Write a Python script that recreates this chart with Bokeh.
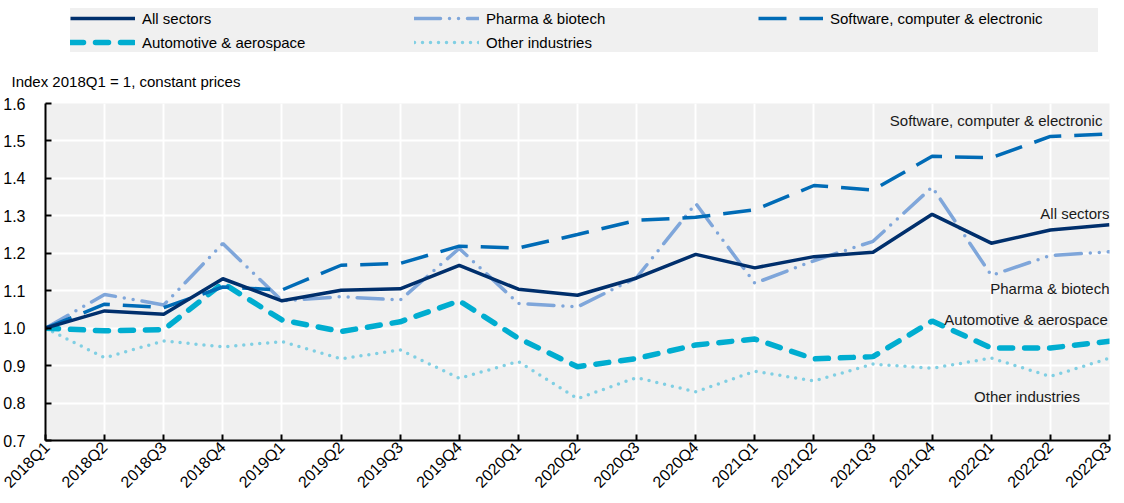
import math
from bokeh.plotting import figure
from bokeh.layouts import column
from bokeh.models import (Range1d, FixedTicker, Legend, LegendItem, Label,
                          PrintfTickFormatter)
from bokeh.embed import file_html
from bokeh.resources import INLINE

quarters = ["2018Q1", "2018Q2", "2018Q3", "2018Q4", "2019Q1", "2019Q2", "2019Q3", "2019Q4",
            "2020Q1", "2020Q2", "2020Q3", "2020Q4", "2021Q1", "2021Q2", "2021Q3", "2021Q4",
            "2022Q1", "2022Q2", "2022Q3"]
all_sectors = [1.0, 1.046, 1.037, 1.132, 1.073, 1.101, 1.105, 1.168, 1.104, 1.088, 1.134,
               1.197, 1.161, 1.191, 1.203, 1.304, 1.227, 1.262, 1.276]
software = [1.0, 1.064, 1.055, 1.11, 1.102, 1.168, 1.173, 1.219, 1.214, 1.25, 1.288,
            1.296, 1.316, 1.381, 1.369, 1.459, 1.455, 1.512, 1.519]
pharma = [1.0, 1.09, 1.062, 1.226, 1.073, 1.084, 1.075, 1.213, 1.066, 1.057, 1.135,
          1.333, 1.12, 1.18, 1.232, 1.377, 1.141, 1.194, 1.204]
automotive = [1.0, 0.993, 0.996, 1.12, 1.022, 0.991, 1.017, 1.073, 0.973, 0.897, 0.919,
              0.955, 0.971, 0.918, 0.924, 1.019, 0.947, 0.947, 0.965]
other = [1.0, 0.921, 0.966, 0.95, 0.964, 0.918, 0.942, 0.866, 0.911, 0.812, 0.868,
         0.83, 0.885, 0.859, 0.904, 0.893, 0.92, 0.871, 0.92]
y_ticks = [0.7, 0.8, 0.9, 1.0, 1.1, 1.2, 1.3, 1.4, 1.5, 1.6]

FONT = "Liberation Sans"
BG = "#F0F0F0"
x = list(range(len(quarters)))

styles = {
    "All sectors": dict(line_color="#002F6C", line_width=3.5),
    "Software, computer & electronic": dict(line_color="#006BB6", line_width=3.5, line_dash="28 13"),
    "Pharma & biotech": dict(line_color="#7FA6DA", line_width=3.5, line_dash="26 9 0 9 0 9", line_cap="round"),
    "Automotive & aerospace": dict(line_color="#00ADD0", line_width=5.5, line_dash="13 12", line_cap="round"),
    "Other industries": dict(line_color="#80CFE3", line_width=3.5, line_dash="0 8", line_cap="round"),
}
series = {
    "All sectors": all_sectors,
    "Software, computer & electronic": software,
    "Pharma & biotech": pharma,
    "Automotive & aerospace": automotive,
    "Other industries": other,
}

# ---------- main chart ----------
p = figure(width=1114, height=450, output_backend="svg", toolbar_location=None,
           x_range=Range1d(0, len(quarters) - 1), y_range=Range1d(0.7, 1.6),
           min_border_left=44, min_border_right=5, min_border_top=51, min_border_bottom=62)
p.background_fill_color = BG
p.border_fill_color = "white"
p.outline_line_color = None

draw_order = ["Other industries", "Pharma & biotech", "Automotive & aerospace",
              "Software, computer & electronic", "All sectors"]
for name in draw_order:
    p.line(x, series[name], **styles[name])

p.xaxis.ticker = FixedTicker(ticks=x)
p.xaxis.major_label_overrides = {i: q for i, q in enumerate(quarters)}
p.xaxis.major_label_orientation = math.pi / 4
p.yaxis.ticker = FixedTicker(ticks=y_ticks)
p.yaxis.formatter = PrintfTickFormatter(format="%.1f")
for ax in (p.xaxis, p.yaxis):
    ax.axis_line_color = "black"
    ax.axis_line_width = 2
    ax.major_tick_line_color = "black"
    ax.major_tick_line_width = 2
    ax.major_tick_in = 6
    ax.major_tick_out = 0
    ax.minor_tick_line_color = None
    ax.major_label_text_font = FONT
    ax.major_label_text_font_size = "16px"
    ax.major_label_text_color = "black"
p.yaxis.major_label_standoff = 20
p.xaxis.major_label_standoff = 4

p.xgrid.ticker = FixedTicker(ticks=x)
p.ygrid.ticker = FixedTicker(ticks=y_ticks)
for g in (p.xgrid, p.ygrid):
    g.grid_line_color = "white"
    g.grid_line_width = 2

lab_kw = dict(text_align="right", text_baseline="middle", text_font=FONT,
              text_font_size="15px", text_color="#1a1a1a")
p.add_layout(Label(x=17.88, y=1.555, text="Software, computer & electronic", **lab_kw))
p.add_layout(Label(x=18.0, y=1.306, text="All sectors", **lab_kw))
p.add_layout(Label(x=18.0, y=1.106, text="Pharma & biotech", **lab_kw))
p.add_layout(Label(x=17.97, y=1.023, text="Automotive & aerospace", **lab_kw))
p.add_layout(Label(x=17.5, y=0.817, text="Other industries", **lab_kw))

p.title.text = "Index 2018Q1 = 1, constant prices"
p.title.text_font = FONT
p.title.text_font_size = "15px"
p.title.text_font_style = "normal"
p.title.text_color = "black"
p.title.align = "left"
p.title.standoff = 27
p.title.offset = -34

# ---------- legend strip (series drawn out of view; only the legend shows) ----------
lf = figure(width=1114, height=52, output_backend="svg", toolbar_location=None,
            x_axis_type=None, y_axis_type=None, x_range=Range1d(-100, -99), y_range=Range1d(0, 1),
            min_border_left=0, min_border_right=0, min_border_top=0, min_border_bottom=0)
lf.outline_line_color = None
lf.background_fill_color = "white"
lf.border_fill_color = "white"
lf.grid.visible = False

legend_order = ["All sectors", "Pharma & biotech", "Software, computer & electronic",
                "Automotive & aerospace", "Other industries"]
items = []
for name in legend_order:
    r = lf.line(x, series[name], **styles[name])
    items.append(LegendItem(label=name, renderers=[r]))

legend = Legend(items=items, orientation="horizontal", nrows=2, location=(25, 0))
legend.background_fill_color = BG
legend.background_fill_alpha = 1
legend.border_line_color = None
legend.label_text_font = FONT
legend.label_text_font_size = "15px"
legend.label_text_color = "black"
legend.glyph_width = 65
legend.glyph_height = 20
legend.label_height = 20
legend.label_width = 268
legend.label_standoff = 7
legend.spacing = 4
legend.padding = 4
legend.margin = 0
lf.add_layout(legend)

layout = column(lf, p, spacing=0)
open("out.html", "w").write(file_html(layout, INLINE))
